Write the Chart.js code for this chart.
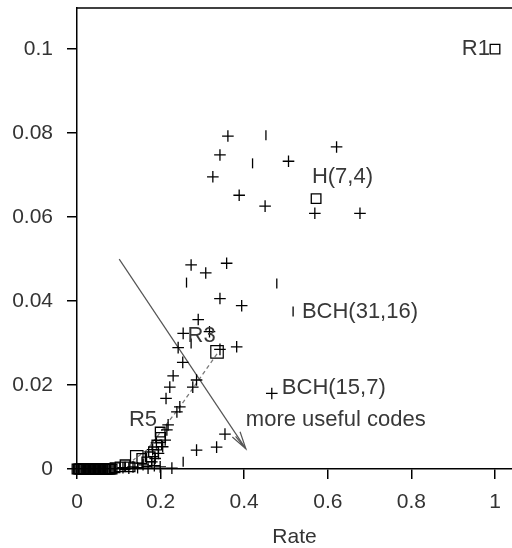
<!DOCTYPE html>
<html><head><meta charset="utf-8">
<script src="https://cdn.jsdelivr.net/npm/chart.js@4"></script>
<style>html,body{margin:0;padding:0;background:#fff}canvas{display:block}</style>
</head><body>
<canvas id="c" width="512" height="548"></canvas>
<script>
// ---- data ----
const xTicks = [0, 0.2, 0.4, 0.6, 0.8, 1];
const xTickLabels = ['0', '0.2', '0.4', '0.6', '0.8', '1'];
const yTicks = [0, 0.02, 0.04, 0.06, 0.08, 0.1];
const yTickLabels = ['0', '0.02', '0.04', '0.06', '0.08', '0.1'];
const xTitle = 'Rate';

const crossX = [0.361,0.342,0.506,0.621,0.325,0.388,0.450,0.569,0.677,
  0.273,0.308,0.358,0.342,0.394,0.290,0.254,0.317,0.382,0.242,0.342,0.253,0.230,0.222,0.213,
  0.286,0.277,0.246,0.239,0.218,0.215,0.211,0.205,0.195,0.187,0.179,0.199,0.227,0.134,0.158,
  0.286,0.334,0.354,0.466,0.110,0.145,0.170,0.185,0.124,0.190,0.181];
const crossY = [0.0793,0.0748,0.0733,0.0767,0.0696,0.0652,0.0626,0.0609,0.0609,
  0.0486,0.0467,0.0490,0.0406,0.0389,0.0356,0.0323,0.0327,0.0291,0.0289,0.0285,0.0254,0.0222,0.0195,0.0168,
  0.0212,0.0195,0.0148,0.0136,0.0105,0.0093,0.0069,0.0053,0.0037,0.0025,0.0017,0.0005,0.0002,0.0005,0.0010,
  0.0045,0.0052,0.0083,0.0180,0.0003,0.0003,0.0002,0.0008,0.0002,0.0062,0.0046];

const barX = [0.452,0.420,0.262,0.478,0.517,0.273,0.254];
const barY = [0.0795,0.0728,0.0444,0.0442,0.0375,0.0299,0.0017];

const squareX = [1.000,0.572,0.199,0.200,0.191,0.183,0.175,0.155,0.167,0.127,0.115,0.103,0.091,
  0.000,0.003,0.006,0.009,0.012,0.015,0.018,0.021,0.024,0.027,0.030,0.033,0.036,0.039,0.042,
  0.045,0.048,0.051,0.054,0.057,0.060,0.063,0.066,0.069,0.072,0.075,0.078,0.081,0.084];
const squareY = [0.1000,0.0644,0.0088,0.0075,0.0057,0.0041,0.0029,0.0025,0.0017,0.0005,0.0010,0.0005,0.0003,
  0,0,0,0,0,0,0,0,0,0,0,0,0,0,0,0,0,0,0,0,0,0,0,0,0,0,0,0,0];

const bigSquareX = [0.335, 0.143];
const bigSquareY = [0.0279, 0.0029];

const noteText = ['R1', 'H(7,4)', 'BCH(31,16)', 'BCH(15,7)', 'more useful codes', 'R3', 'R5'];
const noteX = [0.988, 0.562, 0.538, 0.490, 0.404, 0.298, 0.158];
const noteY = [0.1000, 0.0695, 0.0374, 0.0192, 0.0117, 0.0316, 0.0117];
const noteAlign = ['right', 'left', 'left', 'left', 'left', 'center', 'center'];

const arrowX = [0.101, 0.404];
const arrowY = [0.0500, 0.0048];
const dashX = [0.335, 0.246, 0.167, 0.134];
const dashY = [0.0274, 0.0148, 0.0045, 0.0021];

// ---- build ----
const pts = (xs, ys) => xs.map((x, i) => ({x: x, y: ys[i]}));
const FONT = "'Liberation Sans', Arial, sans-serif";
const TXT = '#383838';
const noPad = s => { s.paddingLeft = 0; s.paddingRight = 0; s.paddingTop = 0; s.paddingBottom = 0; };

const overlay = {
  id: 'overlay',
  beforeDatasetsDraw(chart) {
    const {ctx, chartArea: a, scales: {x, y}} = chart;
    ctx.save();
    ctx.strokeStyle = '#000'; ctx.lineWidth = 1.5;
    ctx.beginPath(); ctx.moveTo(a.left, a.top); ctx.lineTo(a.right, a.top); ctx.stroke();
    ctx.strokeStyle = '#7a7a7a'; ctx.lineWidth = 1.3; ctx.setLineDash([4, 3]);
    ctx.beginPath();
    dashX.forEach((v, i) => {
      const px = x.getPixelForValue(v), py = y.getPixelForValue(dashY[i]);
      if (i === 0) ctx.moveTo(px, py); else ctx.lineTo(px, py);
    });
    ctx.stroke();
    ctx.setLineDash([]);
    const x0 = x.getPixelForValue(arrowX[0]), y0 = y.getPixelForValue(arrowY[0]);
    const x1 = x.getPixelForValue(arrowX[1]), y1 = y.getPixelForValue(arrowY[1]);
    ctx.strokeStyle = '#555'; ctx.lineWidth = 1.2;
    ctx.beginPath(); ctx.moveTo(x0, y0); ctx.lineTo(x1, y1); ctx.stroke();
    const ang = Math.atan2(y1 - y0, x1 - x0), L = 18, w = 0.26;
    ctx.beginPath();
    ctx.moveTo(x1 - L * Math.cos(ang - w), y1 - L * Math.sin(ang - w));
    ctx.lineTo(x1, y1);
    ctx.lineTo(x1 - L * Math.cos(ang + w), y1 - L * Math.sin(ang + w));
    ctx.moveTo(x1 - L * 0.9 * Math.cos(ang - 0.1), y1 - L * 0.9 * Math.sin(ang - 0.1));
    ctx.lineTo(x1, y1);
    ctx.stroke();
    ctx.restore();
  },
  afterDatasetsDraw(chart) {
    const {ctx, scales: {x, y}} = chart;
    ctx.save();
    ctx.fillStyle = TXT;
    ctx.font = '22px ' + FONT;
    ctx.textBaseline = 'middle';
    noteText.forEach((t, i) => {
      ctx.textAlign = noteAlign[i];
      ctx.fillText(t, x.getPixelForValue(noteX[i]), y.getPixelForValue(noteY[i]));
    });
    ctx.restore();
  }
};

new Chart(document.getElementById('c'), {
  type: 'scatter',
  data: {
    datasets: [
      {data: pts(squareX, squareY), pointStyle: 'rect', pointRadius: 6.8, borderColor: '#000',
       backgroundColor: 'rgba(0,0,0,0)', borderWidth: 1.3, clip: false},
      {data: pts(bigSquareX, bigSquareY), pointStyle: 'rect', pointRadius: 8.8, borderColor: '#000',
       backgroundColor: 'rgba(0,0,0,0)', borderWidth: 1.2, clip: false},
      {data: pts(crossX, crossY), pointStyle: 'cross', pointRadius: 5.8, borderColor: '#000',
       borderWidth: 1.3, clip: false},
      {data: pts(barX, barY), pointStyle: 'line', pointRotation: 90, pointRadius: 5, borderColor: '#000',
       borderWidth: 1.3, clip: false}
    ]
  },
  options: {
    responsive: false,
    animation: false,
    devicePixelRatio: 1,
    layout: {autoPadding: false, padding: {top: 8, right: 0, left: 0, bottom: 0}},
    plugins: {legend: {display: false}, tooltip: {enabled: false}},
    elements: {point: {hoverRadius: 0}},
    scales: {
      x: {
        type: 'linear', min: 0, max: 1.0407,
        afterBuildTicks: s => { s.ticks = xTicks.map(v => ({value: v})); },
        afterFit: s => { s.height = 79; noPad(s); },
        ticks: {callback: (v, i) => xTickLabels[i], color: '#333', padding: 11,
                font: {family: FONT, size: 21}, maxRotation: 0, autoSkip: false},
        grid: {drawOnChartArea: false, drawTicks: true, tickLength: 10, color: '#000', lineWidth: 1.5},
        border: {display: true, color: '#000', width: 1.5},
        title: {display: true, text: xTitle, color: '#333', padding: {top: 0, bottom: 0},
                font: {family: FONT, size: 21, lineHeight: 1}}
      },
      y: {
        type: 'linear', min: 0, max: 0.1098,
        afterBuildTicks: s => { s.ticks = yTicks.map(v => ({value: v})); },
        afterFit: s => { s.width = 77; noPad(s); },
        ticks: {callback: (v, i) => yTickLabels[i], color: '#333', padding: 14,
                font: {family: FONT, size: 21}, autoSkip: false},
        grid: {drawOnChartArea: false, drawTicks: true, tickLength: 10, color: '#000', lineWidth: 1.5},
        border: {display: true, color: '#000', width: 1.5}
      }
    }
  },
  plugins: [overlay]
});
</script>
</body></html>
